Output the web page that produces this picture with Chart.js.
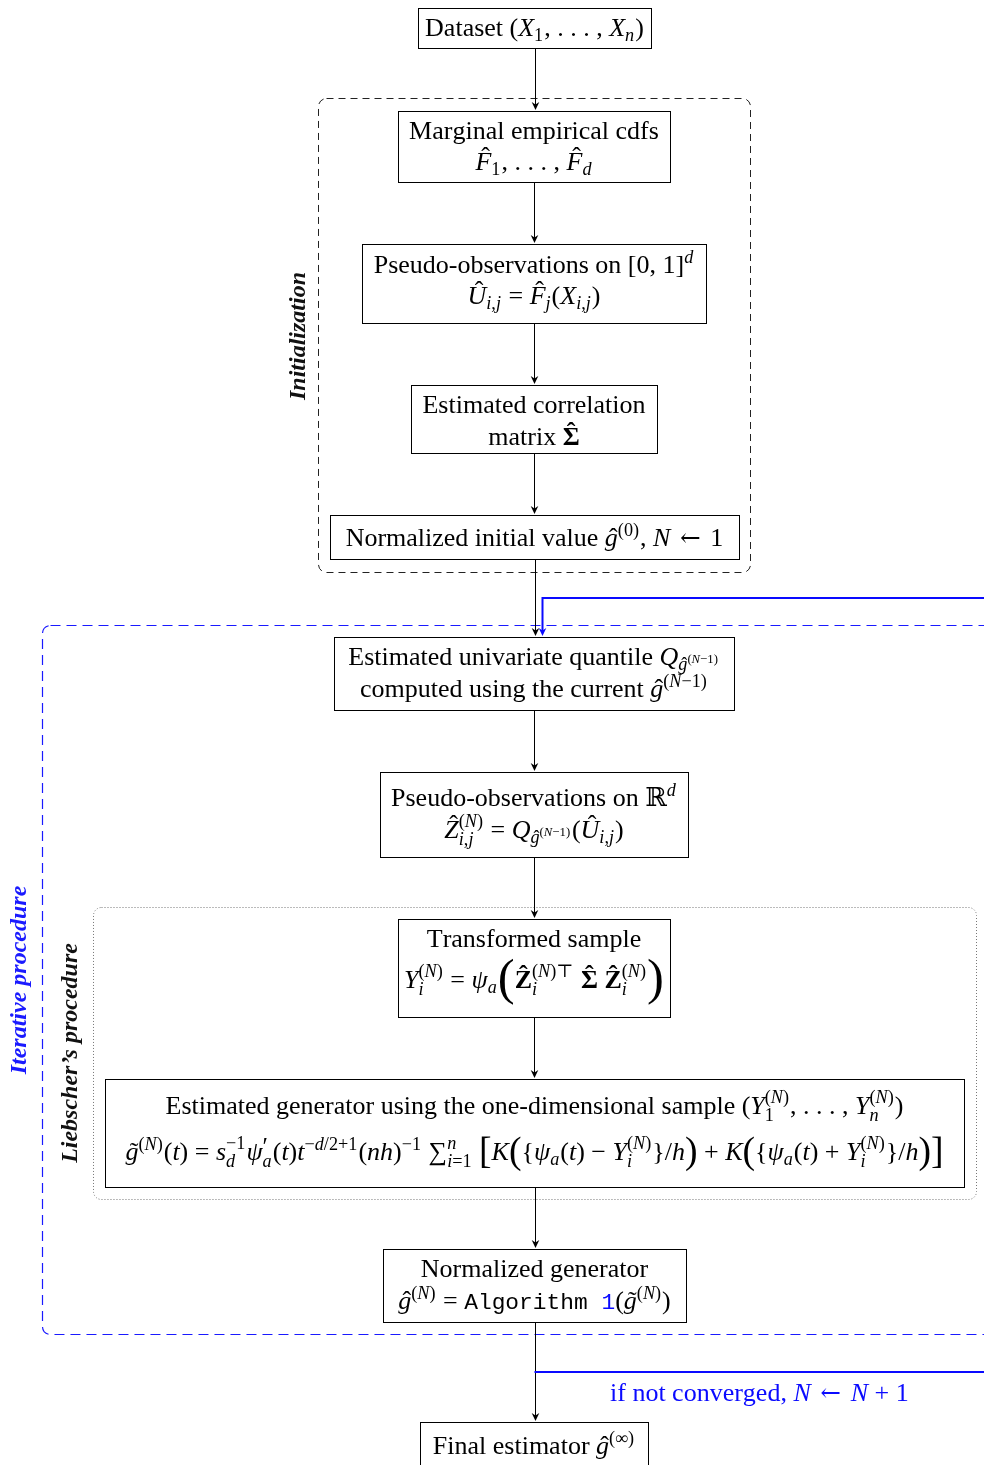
<!DOCTYPE html>
<html>
<head>
<meta charset="utf-8">
<script src="https://cdn.jsdelivr.net/npm/chart.js@4.4.1/dist/chart.umd.min.js"></script>
<style>
  html, body { margin: 0; padding: 0; background: #fff; }
  canvas { display: block; }
</style>
</head>
<body>
<canvas id="flow" width="984" height="1465"></canvas>
<script>
// --- data: box contents (markup: $..$ math, ^{} _{} scripts, \hat \tilde \b bold \m mono \c blue \big \bigg) ---
const nodeLabels = [
  [String.raw`Dataset $(X_{1}, . . . , X_{n})$`],
  ['Marginal empirical cdfs', String.raw`$\hat{F}_{1}, . . . , \hat{F}_{d}$`],
  [String.raw`Pseudo-observations on $[0, 1]^{d}$`, String.raw`$\hat{U}_{i,j} = \hat{F}_{j}(X_{i,j})$`],
  ['Estimated correlation', String.raw`matrix $\b{\hat{Σ}}$`],
  [String.raw`Normalized initial value $\hat{g}^{(0)}$, $N ← 1$`],
  [String.raw`Estimated univariate quantile $Q_{\hat{g}^{(N−1)}}$`, String.raw`computed using the current $\hat{g}^{(N−1)}$`],
  [String.raw`Pseudo-observations on $ℝ^{d}$`, String.raw`$\hat{Z}_{i,j}^{(N)} = Q_{\hat{g}^{(N−1)}}(\hat{U}_{i,j})$`],
  ['Transformed sample', String.raw`$Y_{i}^{(N)} = ψ_{a}\bigg{(}\b{\hat{Z}}_{i}^{(N)⊤} \b{\hat{Σ}} \b{\hat{Z}}_{i}^{(N)}\bigg{)}$`],
  [String.raw`Estimated generator using the one-dimensional sample $(Y_{1}^{(N)}, . . . , Y_{n}^{(N)})$`,
   String.raw`$\tilde{g}^{(N)}(t) = s_{d}^{−1}ψ_{a}^{′}(t)t^{−d/2+1}(nh)^{−1} ∑_{i=1}^{n} \big{[}K\big{(}\{ψ_{a}(t) − Y_{i}^{(N)}\}/h\big{)} + K\big{(}\{ψ_{a}(t) + Y_{i}^{(N)}\}/h\big{)}\big{]}$`],
  ['Normalized generator', String.raw`$\hat{g}^{(N)} = \m{Algorithm }\c{\m{1}}(\tilde{g}^{(N)})$`],
  [String.raw`Final estimator $\hat{g}^{(∞)}$`]
];
const edges = [[0, 1], [1, 2], [2, 3], [3, 4], [4, 5], [5, 6], [6, 7], [7, 8], [8, 9], [9, 10]];
const groupLabels = ['Initialization', 'Iterative procedure', 'Liebscher\u2019s procedure'];
const loopLabel = String.raw`if not converged, $N ← N + 1$`;

// --- layout (chart units = pixels): left, top, right, bottom, baselines ---
const nodeBoxes = [
  [418, 8, 651, 48, [36]],
  [398, 111, 670, 182, [139, 170]],
  [362, 244, 706, 323, [273, 304]],
  [411, 385, 657, 453, [413, 445]],
  [330, 515, 739, 559, [546]],
  [334, 637, 734, 710, [665, 697]],
  [380, 772, 688, 857, [806, 838]],
  [398, 919, 670, 1017, [947, 988]],
  [105, 1079, 964, 1187, [1114, 1160]],
  [383, 1249, 686, 1322, [1277, 1309]],
  [420, 1422, 648, 1475, [1454]]
];
const groupBoxes = [
  { r: [318, 98, 750, 572], color: '#222', dash: [7, 5], width: 1, label: [299, 336], labelColor: '#111' },
  { r: [42, 625, 1010, 1334], color: '#1a1aff', dash: [10, 6], width: 1.2, label: [20, 980], labelColor: '#1a1aff' },
  { r: [93, 907, 976, 1199], color: '#777', dash: [1, 2], width: 1, label: [71, 1053], labelColor: '#111' }
];
const BLUE = '#0a0aff';
const FONT = '"Liberation Serif", "DejaVu Serif", serif';
const MONO = '"Liberation Mono", "DejaVu Sans Mono", monospace';

// --- tiny markup parser ---
function parse(s) {
  let i = 0;
  function arg(st) {
    if (s[i] === '{') { i++; return group(st); }
    return [{ type: 'ch', t: s[i++], st }];
  }
  function group(st) {
    const out = [];
    while (i < s.length) {
      const ch = s[i];
      if (ch === '}') { i++; return out; }
      if (ch === '$') { st = Object.assign({}, st, { math: !st.math }); i++; continue; }
      if (ch === '{') { i++; out.push(...group(st)); continue; }
      if (ch === '^' || ch === '_') {
        i++;
        const key = ch === '^' ? 'sup' : 'sub';
        const body = arg(st);
        const last = out[out.length - 1];
        if (last && last.type === 'scr' && !last[key]) last[key] = body;
        else out.push({ type: 'scr', [key]: body });
        continue;
      }
      if (ch === '\\') {
        i++;
        let name = '';
        while (i < s.length && /[a-z]/.test(s[i])) name += s[i++];
        if (name === '') { out.push({ type: 'ch', t: s[i++], st }); continue; }
        if (name === 'hat' || name === 'tilde') {
          out.push({ type: 'acc', acc: name === 'hat' ? '\u02C6' : '\u02DC', base: arg(st), st });
          continue;
        }
        if (name === 'b') { out.push(...arg(Object.assign({}, st, { bold: true }))); continue; }
        if (name === 'm') { out.push(...arg(Object.assign({}, st, { mono: true }))); continue; }
        if (name === 'c') { out.push(...arg(Object.assign({}, st, { color: BLUE }))); continue; }
        if (name === 'big' || name === 'bigg') {
          out.push({ type: 'big', k: name === 'big' ? 1.45 : 1.95, body: arg(st) });
          continue;
        }
        continue;
      }
      out.push({ type: 'ch', t: ch, st });
      i++;
    }
    return out;
  }
  return group({ math: false, bold: false, mono: false, color: null });
}

function fontFor(st, ch, size) {
  if (st.mono) return (size * 0.88).toFixed(2) + 'px ' + MONO;
  if (ch === '←') return (size * 0.95).toFixed(2) + 'px "DejaVu Serif", serif';
  if (ch === '′') return (size * 1.35).toFixed(2) + 'px ' + FONT;
  let style = '';
  if (st.bold) style = 'bold ';
  else if (st.math && /[A-Za-zα-ω]/.test(ch)) style = 'italic ';
  return style + size.toFixed(2) + 'px ' + FONT;
}

function layout(ctx, nodes, size, x0, dy, items, color) {
  let x = x0;
  for (const n of nodes) {
    if (n.type === 'ch') {
      const font = fontFor(n.st, n.t, size);
      ctx.font = font;
      const w = ctx.measureText(n.t).width;
      const pad = n.t === '←' ? size * 0.12 : 0;
      items.push({ t: n.t, font, x: x + pad, dy: dy + (n.t === '′' ? size * 0.3 : 0), color: n.st.color || color });
      x += w + 2 * pad;
    } else if (n.type === 'scr') {
      const ss = size * 0.7;
      const both = n.sup && n.sub;
      let wSup = 0, wSub = 0;
      if (n.sup) wSup = layout(ctx, n.sup, ss, x, dy - size * (both ? 0.42 : 0.38), items, color);
      if (n.sub) wSub = layout(ctx, n.sub, ss, x, dy + size * (both ? 0.27 : 0.2), items, color);
      x += Math.max(wSup, wSub) + size * 0.04;
    } else if (n.type === 'acc') {
      const w = layout(ctx, n.base, size, x, dy, items, color);
      const b = n.base[0];
      const upper = /[A-ZΣ]/.test(b.t);
      const italic = b.st.math && !b.st.bold;
      const font = (b.st.bold ? 'bold ' : '') + size.toFixed(2) + 'px ' + FONT;
      ctx.font = font;
      const aw = ctx.measureText(n.acc).width;
      items.push({ t: n.acc, font, x: x + w / 2 - aw / 2 + (italic ? size * 0.08 : 0),
                   dy: dy - (upper ? size * 0.2 : 0), color: b.st.color || color });
      x += w;
    } else if (n.type === 'big') {
      const w = layout(ctx, n.body, size * n.k, x, dy + 0.25 * size * (n.k - 1), items, color);
      x += w;
    }
  }
  return x - x0;
}

function rich(ctx, str, size, color) {
  const items = [];
  const width = layout(ctx, parse(str), size, 0, 0, items, color);
  return { items, width };
}

function drawRich(ctx, r, x, y) {
  for (const it of r.items) {
    ctx.font = it.font;
    ctx.fillStyle = it.color;
    ctx.fillText(it.t, x + it.x, y + it.dy);
  }
}

function roundRectPath(ctx, x1, y1, x2, y2, rad) {
  ctx.beginPath();
  ctx.moveTo(x1 + rad, y1);
  ctx.lineTo(x2 - rad, y1);
  ctx.arcTo(x2, y1, x2, y1 + rad, rad);
  ctx.lineTo(x2, y2 - rad);
  ctx.arcTo(x2, y2, x2 - rad, y2, rad);
  ctx.lineTo(x1 + rad, y2);
  ctx.arcTo(x1, y2, x1, y2 - rad, rad);
  ctx.lineTo(x1, y1 + rad);
  ctx.arcTo(x1, y1, x1 + rad, y1, rad);
  ctx.closePath();
}

function arrowHead(ctx, x, y, color) {
  ctx.fillStyle = color;
  ctx.beginPath();
  ctx.moveTo(x, y);
  ctx.lineTo(x - 3.8, y - 8);
  ctx.lineTo(x, y - 5.5);
  ctx.lineTo(x + 3.8, y - 8);
  ctx.closePath();
  ctx.fill();
}

const TEXT = 26;
const crisp = v => Math.round(v) + 0.5;

const flowPlugin = {
  id: 'flow',
  afterDraw(chart) {
    const ctx = chart.ctx;
    const sx = chart.scales.x, sy = chart.scales.y;
    const X = v => sx.getPixelForValue(v);
    const Y = v => sy.getPixelForValue(v);
    ctx.save();
    ctx.textBaseline = 'alphabetic';

    // group frames + rotated titles
    groupBoxes.forEach((g, gi) => {
      ctx.strokeStyle = g.color;
      ctx.lineWidth = g.width;
      ctx.setLineDash(g.dash);
      roundRectPath(ctx, crisp(X(g.r[0])), crisp(Y(g.r[1])), crisp(X(g.r[2])), crisp(Y(g.r[3])), 8);
      ctx.stroke();
      ctx.setLineDash([]);
      ctx.save();
      ctx.translate(X(g.label[0]), Y(g.label[1]));
      ctx.rotate(-Math.PI / 2);
      ctx.font = 'italic bold 24px ' + FONT;
      ctx.fillStyle = g.labelColor;
      ctx.textAlign = 'center';
      ctx.textBaseline = 'middle';
      ctx.fillText(groupLabels[gi], 0, 0);
      ctx.restore();
    });

    // connectors
    ctx.strokeStyle = '#000';
    ctx.lineWidth = 1;
    edges.forEach(([a, b]) => {
      const A = nodeBoxes[a], B = nodeBoxes[b];
      const cx = crisp(X((A[0] + A[2]) / 2));
      const y1 = Y(A[3]), y2 = Y(B[1]) - 1;
      ctx.beginPath();
      ctx.moveTo(cx, y1);
      ctx.lineTo(cx, y2 - 4);
      ctx.stroke();
      arrowHead(ctx, cx, y2, '#000');
    });

    // feedback loop (blue)
    const loopTarget = nodeBoxes[5], loopSource = nodeBoxes[9];
    const lx = crisp(X((loopTarget[0] + loopTarget[2]) / 2 + 8));
    const ly = Y(598);
    ctx.strokeStyle = BLUE;
    ctx.lineWidth = 2;
    ctx.beginPath();
    ctx.moveTo(X(990), ly);
    ctx.lineTo(lx, ly);
    ctx.lineTo(lx, Y(loopTarget[1]) - 5);
    ctx.stroke();
    arrowHead(ctx, lx, Y(loopTarget[1]) - 1, BLUE);
    const by = Y(1372);
    ctx.beginPath();
    ctx.moveTo(X((loopSource[0] + loopSource[2]) / 2), by);
    ctx.lineTo(X(990), by);
    ctx.stroke();

    // boxes and texts
    nodeBoxes.forEach((bx, i) => {
      const x1 = crisp(X(bx[0])), y1 = crisp(Y(bx[1])), x2 = crisp(X(bx[2])), y2 = crisp(Y(bx[3]));
      ctx.fillStyle = '#fff';
      ctx.fillRect(x1, y1, x2 - x1, y2 - y1);
      ctx.strokeStyle = '#000';
      ctx.lineWidth = 1;
      ctx.strokeRect(x1, y1, x2 - x1, y2 - y1);
      const cx = X((bx[0] + bx[2]) / 2);
      nodeLabels[i].forEach((line, li) => {
        const r = rich(ctx, line, TEXT, '#000');
        drawRich(ctx, r, cx - r.width / 2, Y(bx[4][li]));
      });
    });

    const lr = rich(ctx, loopLabel, TEXT, BLUE);
    drawRich(ctx, lr, X(610), Y(1401));
    ctx.restore();
  }
};

new Chart(document.getElementById('flow'), {
  type: 'scatter',
  data: { datasets: [{ data: [], pointRadius: 0 }] },
  options: {
    responsive: false,
    animation: false,
    events: [],
    layout: { padding: 0 },
    plugins: { legend: { display: false }, tooltip: { enabled: false } },
    scales: {
      x: { type: 'linear', min: 0, max: 984, display: false },
      y: { type: 'linear', min: 0, max: 1465, reverse: true, display: false }
    }
  },
  plugins: [flowPlugin]
});
</script>
</body>
</html>
